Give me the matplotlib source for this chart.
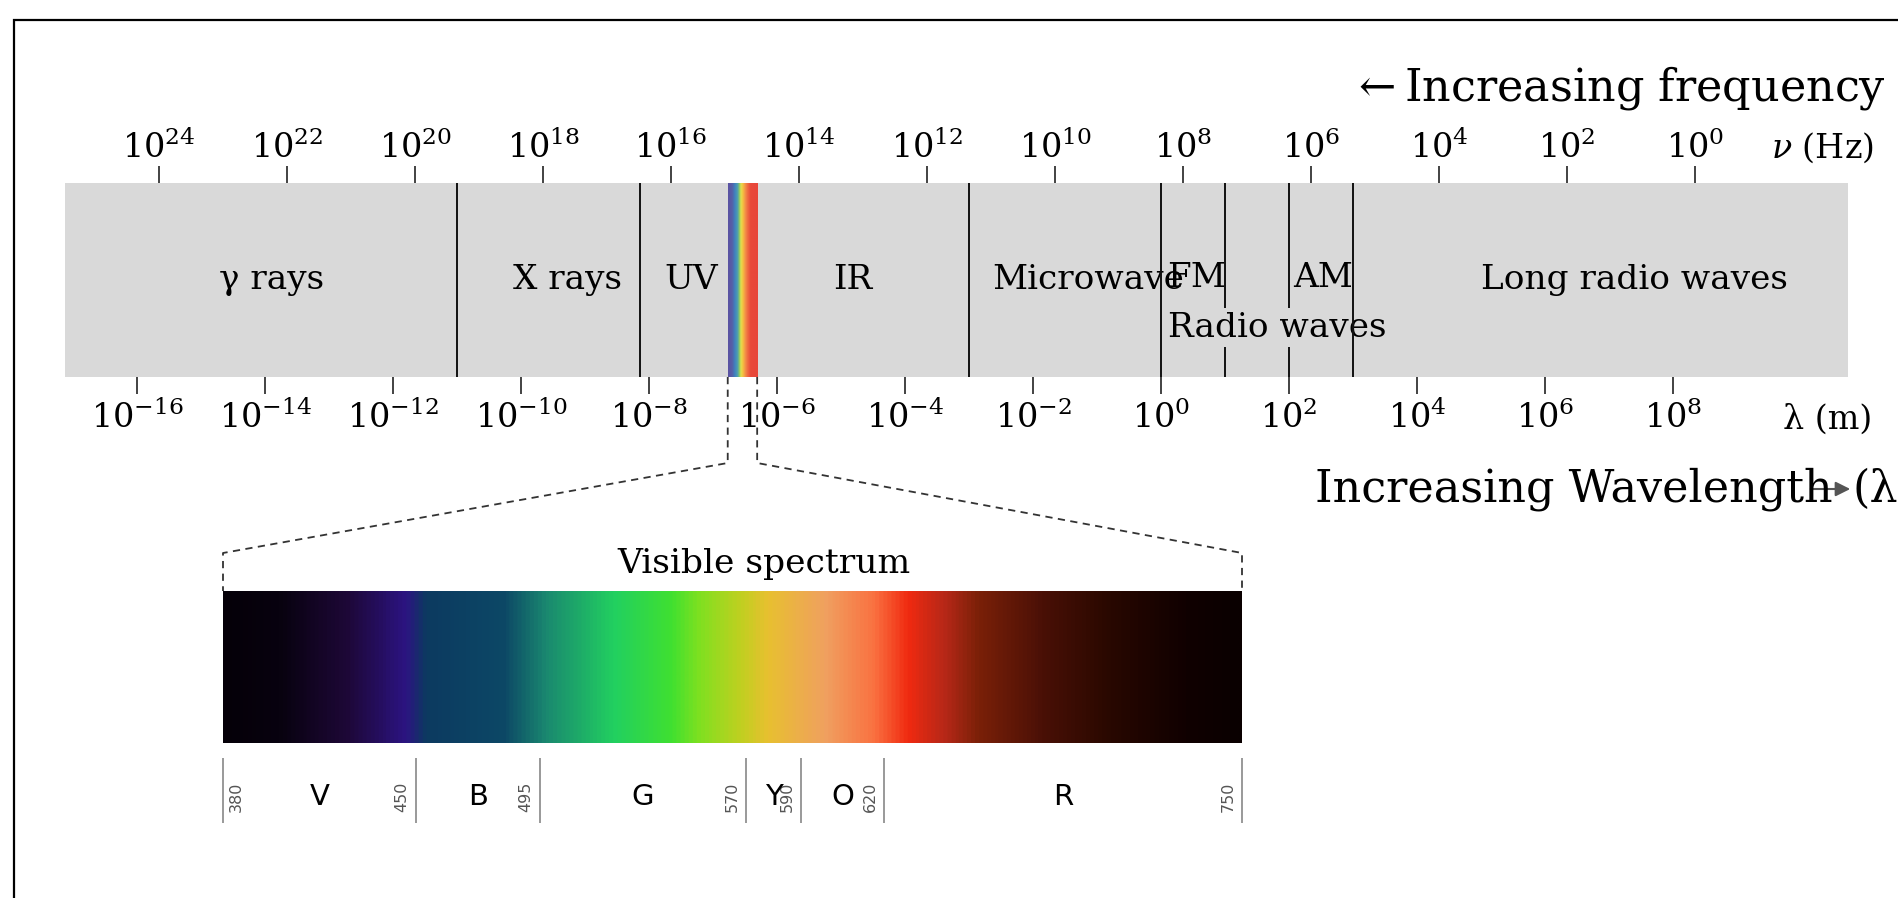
import numpy as np
import matplotlib
matplotlib.use('Agg')
import matplotlib.pyplot as plt
from matplotlib.colors import LinearSegmentedColormap
from matplotlib.lines import Line2D
from matplotlib.patches import Rectangle, FancyArrowPatch

plt.rcParams['font.family'] = ['DejaVu Serif']
plt.rcParams['mathtext.fontset'] = 'dejavuserif'

# ---------------- data (log10 units) ----------------
wl_ticks = list(range(-16, 9, 2))          # log10 wavelength (m)
freq_ticks = list(range(24, -1, -2))       # log10 frequency (Hz)
freq_offset = 8.344                        # log10(nu) + log10(lambda) as drawn
xlim_main = (-17.125, 10.734)

edges_full = [-11.0, -8.14, -3.0, 0.0, 3.0]    # uninterrupted boundaries
edges_radio = [1.0, 2.0]                        # boundaries behind "Radio waves"
visible_band = (-6.77, -6.31)

region_labels = ['γ rays', 'X rays', 'UV', 'IR', 'Microwave', 'FM', 'AM', 'Long radio waves']
region_pos = [-13.89, -9.28, -7.34, -4.81, -1.14, 0.55, 2.53, 7.39]
region_y = [0.5, 0.5, 0.5, 0.5, 0.5, 0.51, 0.51, 0.5]
radio_label = 'Radio waves'
radio_pos = 1.81

vis_bounds = [380, 450, 495, 570, 590, 620, 750]   # nm
vis_names = ['V', 'B', 'G', 'Y', 'O', 'R']

# colour stops of the visible-spectrum strip (nm, colour)
spec_stops = [(380, '#050008'), (400, '#08020f'), (425, '#1e0838'), (446, '#2c1482'),
              (453, '#0c3a60'), (482, '#0d4866'), (497, '#1a8870'), (522, '#22d060'),
              (543, '#40e030'), (553, '#80e020'), (568, '#c0d020'), (578, '#e8c030'),
              (599, '#f0a060'), (617, '#fa7040'), (629, '#f02a10'), (642, '#b82818'),
              (655, '#7a2008'), (678, '#4a1006'), (703, '#280800'), (731, '#100000'),
              (750, '#0a0000')]
rainbow_stops = [(0.0, '#5b51a2'), (0.14, '#5560a8'), (0.22, '#3f7fbf'), (0.32, '#4f9fb0'),
                 (0.38, '#8cc860'), (0.43, '#e0e050'), (0.50, '#f5c040'), (0.58, '#f39048'),
                 (0.66, '#ef6a40'), (0.75, '#e84a3a'), (1.0, '#e8463a')]

# ---------------- figure ----------------
W, H = 1898, 898
fig = plt.figure(figsize=(W / 100, H / 100), dpi=100)


def fx(px):
    return px / W


def fy(py):
    return 1 - py / H


GRAY = '#d9d9d9'
ax = fig.add_axes([fx(65), fy(377), fx(1848) - fx(65), fy(183) - fy(377)])
ax.set_facecolor(GRAY)

rb_cmap = LinearSegmentedColormap.from_list('rb', rainbow_stops)
ax.imshow(np.linspace(0, 1, 200)[None, :], extent=[visible_band[0], visible_band[1], 0, 1],
          aspect='auto', cmap=rb_cmap, zorder=1.5, interpolation='bilinear')

ax.vlines(edges_full, 0, 1, colors='#111111', lw=1.4, zorder=4)
ax.vlines(edges_radio, 0, 1, colors='#111111', lw=1.4, zorder=2)

for lab, p, yy in zip(region_labels, region_pos, region_y):
    ax.text(p, yy, lab, ha='center', va='center', fontsize=24.7, zorder=3.5)
ax.text(radio_pos, 0.255, radio_label, ha='center', va='center', fontsize=24.7, zorder=3,
        bbox=dict(boxstyle='square,pad=0.1', fc=GRAY, ec='none'))

ax.set_xlim(*xlim_main)
ax.set_ylim(0, 1)
for s in ax.spines.values():
    s.set_visible(False)
ax.set_yticks([])
ax.set_xticks(wl_ticks)
ax.set_xticklabels([f'$10^{{{t}}}$' for t in wl_ticks])
ax.tick_params(axis='x', direction='out', length=12, width=1.2, labelsize=24, pad=5,
               color='#222222')

ax2 = ax.twiny()
ax2.set_xlim(*xlim_main)
ax2.patch.set_visible(False)
for s in ax2.spines.values():
    s.set_visible(False)
ax2.set_xticks([freq_offset - f for f in freq_ticks])
ax2.set_xticklabels([f'$10^{{{f}}}$' for f in freq_ticks])
ax2.tick_params(axis='x', direction='out', length=12, width=1.2, labelsize=24, pad=1,
                color='#222222')

# axis unit labels
fig.text(fx(1771), fy(148), r'$\nu$ (Hz)', fontsize=24, va='center', ha='left')
fig.text(fx(1783), fy(420), 'λ (m)', fontsize=24, va='center', ha='left')

# direction annotations
fig.text(fx(1350), fy(100), r'$\leftarrow$Increasing frequency', fontsize=32,
         va='baseline', ha='left')
fig.text(fx(1315), fy(502), 'Increasing Wavelength', fontsize=32, va='baseline', ha='left')
fig.text(fx(1852), fy(502), '(λ)', fontsize=32, va='baseline', ha='left')
fig.add_artist(FancyArrowPatch(
    (fx(1808), fy(489)), (fx(1853), fy(489)), transform=fig.transFigure,
    arrowstyle='-|>', mutation_scale=22, color='#555555', lw=1.5))

# ---------------- visible spectrum inset ----------------
axv = fig.add_axes([fx(223), fy(743), fx(1242) - fx(223), fy(591) - fy(743)])
spec_cmap = LinearSegmentedColormap.from_list(
    'spec', [((w - 380) / 370, c) for w, c in spec_stops])
axv.imshow(np.linspace(380, 750, 1000)[None, :], extent=[380, 750, 0, 1], aspect='auto',
           cmap=spec_cmap, vmin=380, vmax=750, interpolation='bilinear')
axv.set_xlim(380, 750)
axv.set_ylim(0, 1)
axv.set_axis_off()

ax_h = 743 - 591
y_line0 = -(758 - 743) / ax_h
y_line1 = -(823 - 743) / ax_h
y_lab = -(797 - 743) / ax_h
axv.vlines(vis_bounds, y_line1, y_line0, colors='#999999', lw=1.4, clip_on=False)
for b in vis_bounds:
    xo = b + 5 if b == vis_bounds[0] else b - 5
    axv.text(xo, y_lab, str(b), rotation=90, ha='center', va='center', fontsize=11.5,
             color='#555555', family='DejaVu Sans', clip_on=False)
for lo, hi, name in zip(vis_bounds[:-1], vis_bounds[1:], vis_names):
    axv.text((lo + hi) / 2, y_lab, name, ha='center', va='center', fontsize=21,
             family='DejaVu Sans', clip_on=False)

fig.text(fx(764), fy(573), 'Visible spectrum', fontsize=24.8, ha='center', va='baseline')

# dashed connectors
inv = fig.transFigure.inverted()
for xd, xv in [(visible_band[0], 380), (visible_band[1], 750)]:
    px_top = ax.transData.transform((xd, 0))[0]
    px_bot = axv.transData.transform((xv, 1))[0]
    pts_disp = [(px_top, H - 377), (px_top, H - 463), (px_bot, H - 553), (px_bot, H - 591)]
    pts = inv.transform(pts_disp)
    fig.add_artist(Line2D(pts[:, 0], pts[:, 1], transform=fig.transFigure, color='#333333',
                          lw=1.3, ls=(0, (4, 3))))

# frame border (extends beyond the right/bottom edge)
fig.add_artist(Rectangle((fx(14), -0.2), 1.5, fy(20) + 0.2, transform=fig.transFigure,
                         fill=False, ec='black', lw=1.6, clip_on=False))

fig.savefig('out.png', dpi=100, facecolor='white')
